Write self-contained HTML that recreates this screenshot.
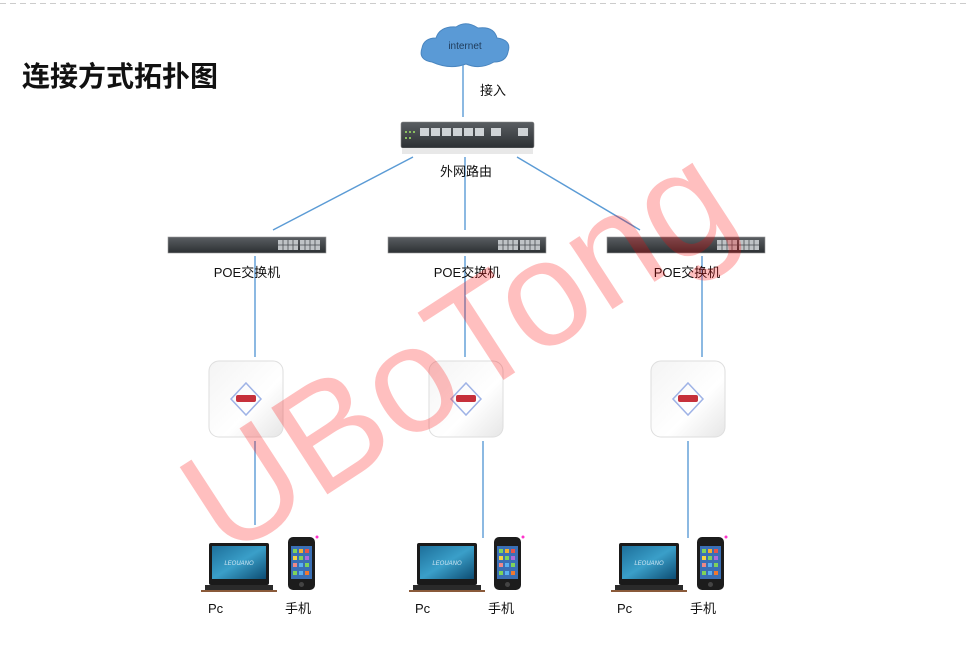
<!DOCTYPE html>
<html><head><meta charset="utf-8"><style>
html,body{margin:0;padding:0;background:#fff;}
svg{display:block;}
text{font-family:"Liberation Sans","Noto Sans CJK SC",sans-serif;}
</style></head><body>
<svg width="968" height="653" viewBox="0 0 968 653" xmlns="http://www.w3.org/2000/svg">
<defs>
<linearGradient id="swg" x1="0" y1="0" x2="0" y2="1"><stop offset="0" stop-color="#5a5e62"/><stop offset="1" stop-color="#2c3033"/></linearGradient>
<linearGradient id="apg" x1="0" y1="0" x2="1" y2="1"><stop offset="0" stop-color="#f4f4f4"/><stop offset="0.6" stop-color="#ffffff"/><stop offset="1" stop-color="#e6e6e6"/></linearGradient>
<linearGradient id="scr" x1="0" y1="0" x2="1" y2="1"><stop offset="0" stop-color="#1d6f9a"/><stop offset="0.5" stop-color="#3a9fc9"/><stop offset="1" stop-color="#0d4c72"/></linearGradient>
<g id="switch">
 <rect x="0" y="0" width="158" height="16" fill="url(#swg)" stroke="#999" stroke-width="0.6"/>
 <rect x="110" y="3" width="20" height="10" fill="#bfc3c6"/>
 <rect x="132" y="3" width="20" height="10" fill="#bfc3c6"/>
 <path d="M110 8h42M115 3v10M120 3v10M125 3v10M137 3v10M142 3v10M147 3v10" stroke="#4a4e52" stroke-width="0.8"/>
</g>
<g id="apdev">
 <rect x="0" y="0" width="74" height="76" rx="10" fill="url(#apg)" stroke="#dedede"/>
 <polygon points="37,22 52,38 37,54 22,38" fill="none" stroke="#9fb3e6" stroke-width="1.5"/>
 <rect x="27" y="34" width="20" height="7" rx="2" fill="#c6303a"/>
</g>
<g id="laptop">
 <rect x="8" y="0" width="60" height="42" rx="2" fill="#1a1a1a"/>
 <rect x="11" y="3" width="54" height="33" fill="url(#scr)"/>
 <text x="38" y="22" font-size="6" fill="#cfe6f3" text-anchor="middle" font-style="italic">LEOUANO</text>
 <rect x="4" y="42" width="68" height="5" fill="#2a2a2a"/>
 <rect x="0" y="47" width="76" height="2" fill="#8a5a3a"/>
</g>
<g id="phone">
 <rect x="0" y="0" width="27" height="53" rx="5" fill="#1c1c1c"/>
 <rect x="3" y="9" width="21" height="33" fill="#3a6fb5"/>
 <g fill="#7fd35a"><rect x="5" y="12" width="4" height="4"/><rect x="11" y="12" width="4" height="4" fill="#f0b030"/><rect x="17" y="12" width="4" height="4" fill="#e5534b"/>
 <rect x="5" y="19" width="4" height="4" fill="#f5d442"/><rect x="11" y="19" width="4" height="4"/><rect x="17" y="19" width="4" height="4" fill="#b06ad8"/>
 <rect x="5" y="26" width="4" height="4" fill="#e88"/><rect x="11" y="26" width="4" height="4" fill="#5ab0f0"/><rect x="17" y="26" width="4" height="4"/>
 <rect x="5" y="34" width="4" height="4"/><rect x="11" y="34" width="4" height="4" fill="#5ab0f0"/><rect x="17" y="34" width="4" height="4" fill="#f07830"/></g>
 <circle cx="13.5" cy="47.5" r="2.5" fill="#444"/>
 <circle cx="29" cy="0" r="1.5" fill="#ff33cc"/>
</g>
</defs>

<line x1="0" y1="3.5" x2="968" y2="3.5" stroke="#ccc" stroke-dasharray="6,4" stroke-width="1"/>

<text x="22" y="86" font-size="28" font-weight="bold" fill="#111">连接方式拓扑图</text>

<path d="M432 62 Q418 60 422 48 Q424 38 436 38 Q440 26 456 27 Q466 20 478 28 Q494 26 497 38 Q512 40 508 52 Q506 62 494 62 Q480 70 466 64 Q450 70 432 62 Z" fill="#5a9ad6" stroke="#4a86c0"/>
<text x="465" y="49" font-size="10" fill="#1f3b5a" text-anchor="middle">internet</text>

<g stroke="#5b9bd5" stroke-width="1.4" fill="none">
 <line x1="463" y1="65" x2="463" y2="117"/>
 <line x1="413" y1="157" x2="273" y2="230"/>
 <line x1="465" y1="157" x2="465" y2="230"/>
 <line x1="517" y1="157" x2="640" y2="230"/>
 <line x1="255" y1="256" x2="255" y2="357"/>
 <line x1="465" y1="256" x2="465" y2="357"/>
 <line x1="702" y1="256" x2="702" y2="357"/>
 <line x1="255" y1="441" x2="255" y2="525"/>
 <line x1="483" y1="441" x2="483" y2="538"/>
 <line x1="688" y1="441" x2="688" y2="538"/>
</g>

<text x="480" y="95" font-size="13" fill="#111">接入</text>

<rect x="401" y="122" width="133" height="26" rx="2" fill="url(#swg)" stroke="#888" stroke-width="0.6"/>
<rect x="402" y="148" width="131" height="6" fill="#e8e8e8"/>
<g fill="#cfd3d6">
 <rect x="420" y="128" width="9" height="8"/><rect x="431" y="128" width="9" height="8"/><rect x="442" y="128" width="9" height="8"/>
 <rect x="453" y="128" width="9" height="8"/><rect x="464" y="128" width="9" height="8"/><rect x="475" y="128" width="9" height="8"/>
 <rect x="491" y="128" width="10" height="8"/><rect x="518" y="128" width="10" height="8"/>
</g>
<g fill="#8ac060"><rect x="405" y="131" width="2" height="2"/><rect x="409" y="131" width="2" height="2"/><rect x="413" y="131" width="2" height="2"/><rect x="405" y="137" width="2" height="2"/><rect x="409" y="137" width="2" height="2"/></g>
<text x="466" y="176" font-size="13" fill="#111" text-anchor="middle">外网路由</text>

<use href="#switch" x="168" y="237"/>
<use href="#switch" x="388" y="237"/>
<use href="#switch" x="607" y="237"/>
<g font-size="13" fill="#111" text-anchor="middle">
 <text x="247" y="277">POE交换机</text>
 <text x="467" y="277">POE交换机</text>
 <text x="687" y="277">POE交换机</text>
</g>

<use href="#apdev" x="209" y="361"/>
<use href="#apdev" x="429" y="361"/>
<use href="#apdev" x="651" y="361"/>

<use href="#laptop" x="201" y="543"/>
<use href="#phone" x="288" y="537"/>
<use href="#laptop" x="409" y="543"/>
<use href="#phone" x="494" y="537"/>
<use href="#laptop" x="611" y="543"/>
<use href="#phone" x="697" y="537"/>
<g font-size="13" fill="#111">
 <text x="208" y="613">Pc</text><text x="285" y="613">手机</text>
 <text x="415" y="613">Pc</text><text x="488" y="613">手机</text>
 <text x="617" y="613">Pc</text><text x="690" y="613">手机</text>
</g>

<text x="0" y="0" font-size="150" fill="#ff0000" fill-opacity="0.25" text-anchor="middle" transform="translate(485,392) rotate(-33)">UBoTong</text>
</svg>
</body></html>
